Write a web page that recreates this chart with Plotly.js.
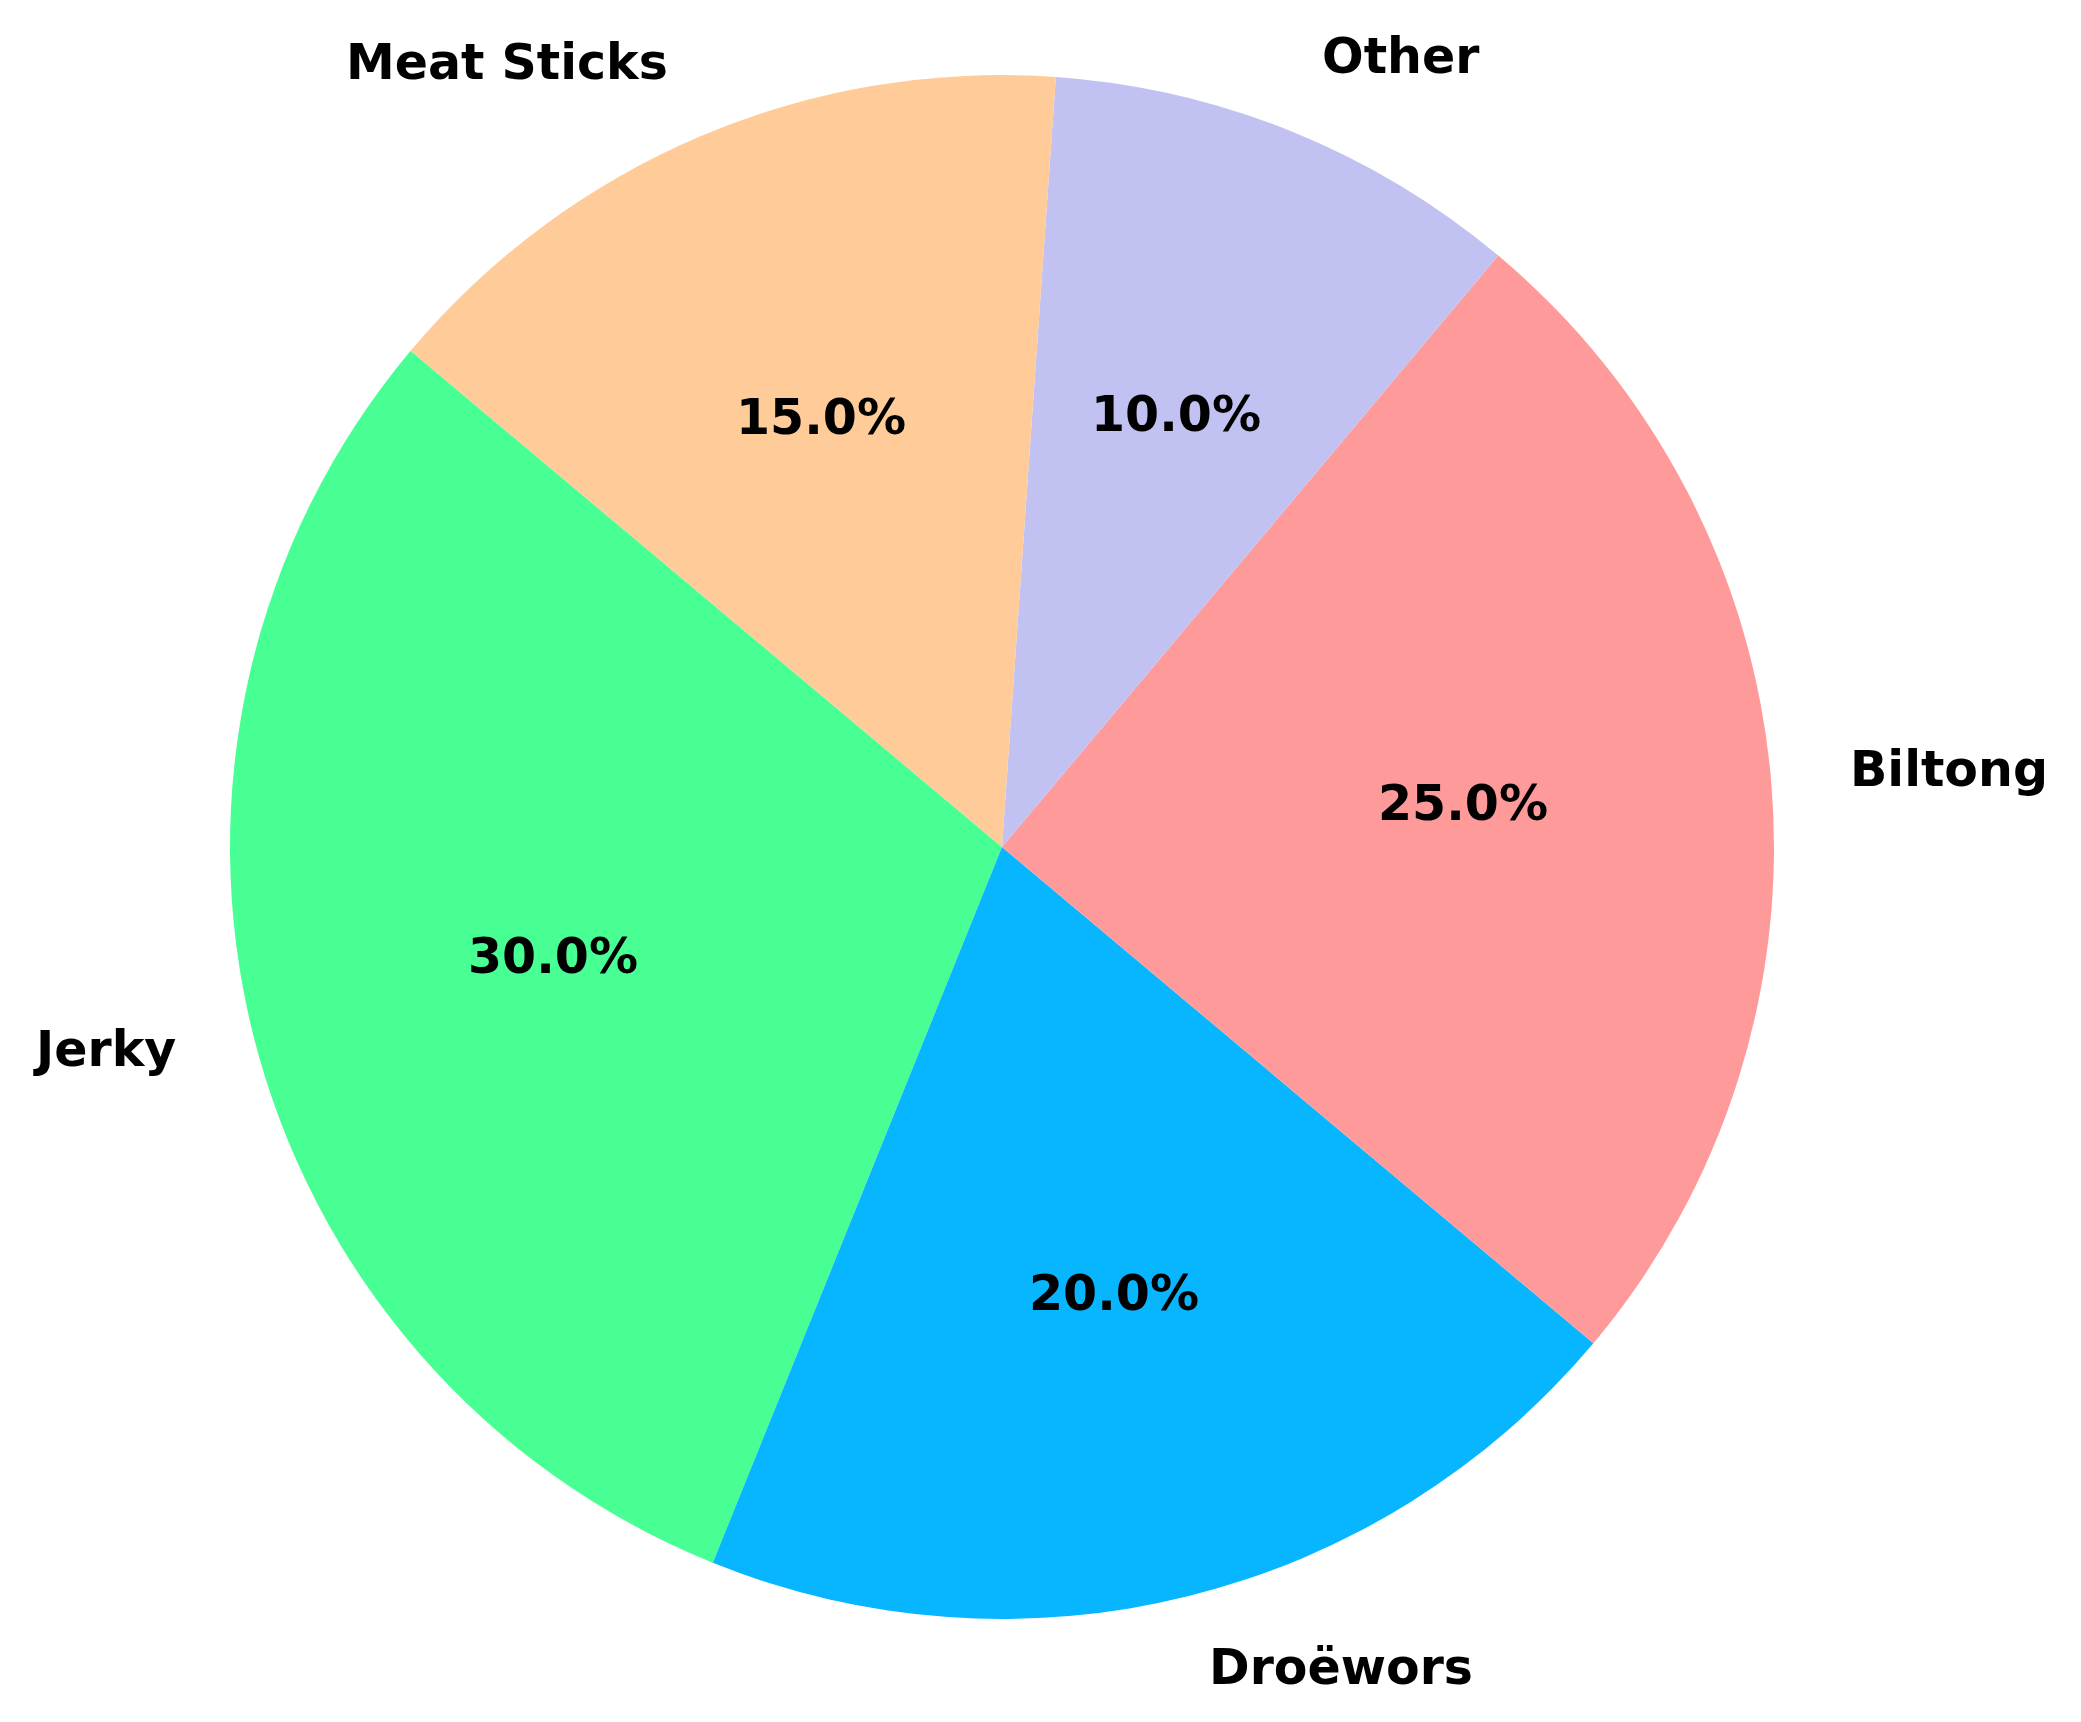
<!DOCTYPE html>
<html>
<head>
<meta charset="utf-8">
<script src="https://cdn.plot.ly/plotly-3.0.1.min.js"></script>
<style>
  html, body { margin: 0; padding: 0; background: #ffffff; }
  #myPlot { width: 2081px; height: 1722px; }
</style>
</head>
<body>
<div id="myPlot"></div>
<script>
// Data
var labels = ["Jerky", "Droëwors", "Biltong", "Other", "Meat Sticks"];
var values = [30, 20, 25, 10, 15];
var colors = ["#48FF94", "#08B6FF", "#FF9A9A", "#C2C2F2", "#FFCC99"];

// matplotlib-like start angle (degrees, counterclockwise from 3 o'clock)
var startAngle = 140;
var total = values.reduce(function (a, b) { return a + b; }, 0);

// plotly rotation: first slice ends (clockwise side) at this angle from 12 o'clock
var rotation = 90 - startAngle - 360 * values[0] / total;

var data = [{
    type: "pie",
    labels: labels,
    values: values,
    sort: false,
    direction: "counterclockwise",
    rotation: rotation,
    marker: { colors: colors, line: { width: 0 } },
    textinfo: "none",
    hoverinfo: "label+percent",
    domain: { x: [0, 1], y: [0, 1] }
}];

// labels at 1.1 r and percentages at 0.6 r, like matplotlib autopct
var annotations = [];
var font = { family: "DejaVu Sans", size: 49, color: "#000000", weight: "bold" };
var angle = startAngle;
for (var i = 0; i < values.length; i++) {
    var span = 360 * values[i] / total;
    var mid = (angle + span / 2) * Math.PI / 180;
    var cx = Math.cos(mid), cy = Math.sin(mid);
    annotations.push({
        xref: "paper", yref: "paper",
        x: 0.5 + 1.1 * cx / 2, y: 0.5 + 1.1 * cy / 2,
        text: labels[i], showarrow: false,
        xanchor: cx > 0 ? "left" : "right", yanchor: "middle",
        yshift: 3,
        font: font
    });
    annotations.push({
        xref: "paper", yref: "paper",
        x: 0.5 + 0.6 * cx / 2, y: 0.5 + 0.6 * cy / 2,
        text: (100 * values[i] / total).toFixed(1) + "%", showarrow: false,
        xanchor: "center", yanchor: "middle",
        yshift: 3,
        font: font
    });
    angle += span;
}

var layout = {
    width: 2081,
    height: 1722,
    margin: { l: 230, r: 307, t: 75, b: 103 },
    paper_bgcolor: "#ffffff",
    plot_bgcolor: "#ffffff",
    showlegend: false,
    annotations: annotations
};

Plotly.newPlot("myPlot", data, layout, { displayModeBar: false });
</script>
</body>
</html>
